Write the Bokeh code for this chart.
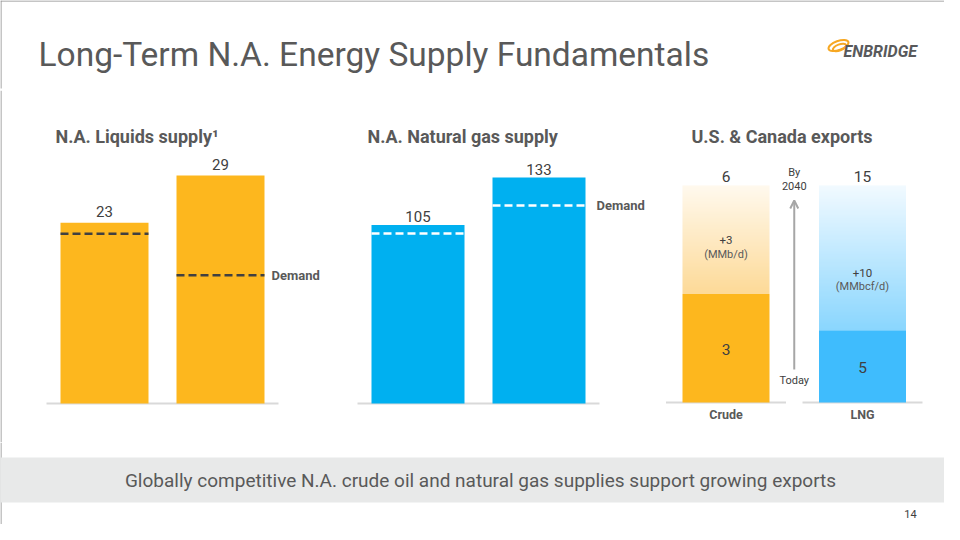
import numpy as np
from bokeh.plotting import figure
from bokeh.layouts import column, row
from bokeh.models import Range1d, Label, Arrow, OpenHead
from bokeh.core.properties import value
from bokeh.embed import file_html
from bokeh.resources import INLINE

# ---------------- data ----------------
slide_title = "Long-Term N.A. Energy Supply Fundamentals"
footer_text = "Globally competitive N.A. crude oil and natural gas supplies support growing exports"
page_number = "14"
logo_text = "ENBRIDGE"

liquids_title = "N.A. Liquids supply\u00b9"
liquids_periods = ["Today", "2040"]
liquids_supply = [23, 29]
liquids_demand = [21.6, 16.3]

gas_title = "N.A. Natural gas supply"
gas_periods = ["Today", "2040"]
gas_supply = [105, 133]
gas_demand = [100, 116.5]

exports_title = "U.S. & Canada exports"
export_categories = ["Crude", "LNG"]
export_today = [3, 5]
export_growth = [3, 10]
export_units = ["(MMb/d)", "(MMbcf/d)"]
arrow_top_labels = ["By", "2040"]
arrow_bottom_label = "Today"
demand_label = "Demand"

# ---------------- style ----------------
FONT = "Roboto"
ORANGE = "#FDB71E"
BLUE = "#00B0F0"
LNG_BLUE = "#3FBCFD"
DARK = "#404040"
GREY = "#595959"
AXIS = "#D9D9D9"
FRAME = "#8C8C8C"
CRUDE_GRAD = ((253, 218, 152), (255, 249, 238))
LNG_GRAD = ((138, 214, 254), (242, 250, 255))

W = 944
HEADER_H, BODY_H, FOOTER_H = 90, 352, 82


def make_fig(w, h, xr, yr):
    p = figure(width=w, height=h, x_range=xr, y_range=yr, output_backend="svg",
               toolbar_location=None, tools="", min_border=0,
               x_axis_location=None, y_axis_location=None)
    p.grid.visible = False
    p.outline_line_color = None
    p.background_fill_color = "white"
    p.border_fill_color = "white"
    return p


def txt(p, **kw):
    kw.setdefault("text_font", value(FONT))
    kw.setdefault("text_align", "center")
    kw.setdefault("text_baseline", "middle")
    p.text(**kw)


def gradient(c0, c1, n=128):
    img = np.empty((n, 1), dtype=np.uint32)
    v = img.view(dtype=np.uint8).reshape((n, 1, 4))
    t = np.linspace(0, 1, n)
    for k in range(3):
        v[:, 0, k] = np.round(c0[k] + (c1[k] - c0[k]) * t).astype(np.uint8)
    v[:, 0, 3] = 255
    return img


def bar_chart(w, centers_px, bar_px, base_px, max_px, values, demand, color,
              demand_color, title, title_x, label_gap, demand_gap, left_frame=False):
    step = centers_px[1] - centers_px[0]
    u = max(values) / max_px
    xr = Range1d(-centers_px[0] / step, (w - centers_px[0]) / step)
    yr = Range1d(-base_px * u, (BODY_H - base_px) * u)
    p = make_fig(w, BODY_H, xr, yr)
    if left_frame:
        fx = xr.start + 0.5 / step
        p.segment(x0=[fx], x1=[fx], y0=[yr.start], y1=[yr.end], line_color=FRAME, line_width=1)
    xs = list(range(len(values)))
    bw = bar_px / step
    ext = 14 / step
    p.segment(x0=[xs[0] - bw / 2 - ext], y0=[0], x1=[xs[-1] + bw / 2 + ext], y1=[0],
              line_color=AXIS, line_width=2)
    p.vbar(x=xs, top=values, bottom=0, width=bw, fill_color=color, line_color=None)
    p.segment(x0=[x - bw / 2 for x in xs], x1=[x + bw / 2 for x in xs],
              y0=demand, y1=demand, line_color=demand_color, line_width=2.5,
              line_dash="8 4")
    txt(p, x=xs, y=values, text=[str(v) for v in values],
        y_offset=-label_gap, text_font_size=value("15px"), text_color=DARK)
    txt(p, x=[xs[-1] + bw / 2], y=[demand[-1]], text=[demand_label], text_align="left",
        x_offset=demand_gap, text_font_size=value("13px"),
        text_font_style="bold", text_color=GREY)
    p.add_layout(Label(x=title_x, y=BODY_H - 46, x_units="screen", y_units="screen",
                       text=title, text_font=FONT, text_font_size="18px",
                       text_font_style="bold", text_color=GREY, text_baseline="middle"))
    return p


c1 = bar_chart(340, [104, 220], 88, 39, 228, liquids_supply, liquids_demand, ORANGE,
               DARK, liquids_title, 55, 11.5, 7, left_frame=True)
c2 = bar_chart(310, [77.5, 198.5], 93, 39, 226, gas_supply, gas_demand, BLUE,
               "white", gas_title, 27, 8.5, 11)

# ---- exports chart (each bar normalised to its own total) ----
w3 = W - 340 - 310
cx = [75.5, 212]
step3 = cx[1] - cx[0]
u3 = 1 / 217
base3 = 40
p3 = make_fig(w3, BODY_H, Range1d(-cx[0] / step3, (w3 - cx[0]) / step3),
              Range1d(-base3 * u3, (BODY_H - base3) * u3))
xs3 = list(range(len(export_categories)))
bw3 = 87 / step3
half_axis = 60 / step3
totals = [a + b for a, b in zip(export_today, export_growth)]
today_share = [a / t for a, t in zip(export_today, totals)]
growth_share = [b / t for b, t in zip(export_growth, totals)]

p3.segment(x0=[x - half_axis for x in xs3], x1=[x + half_axis for x in xs3],
           y0=[0] * len(xs3), y1=[0] * len(xs3), line_color=AXIS, line_width=2)
p3.vbar(x=xs3, bottom=0, top=today_share, width=bw3, fill_color=[ORANGE, LNG_BLUE],
        line_color=None)
for x, b, h, g in zip(xs3, today_share, growth_share, [CRUDE_GRAD, LNG_GRAD]):
    p3.image_rgba(image=[gradient(*g)], x=[x - bw3 / 2], y=[b], dw=[bw3], dh=[h])

top3 = [a + b for a, b in zip(today_share, growth_share)]
txt(p3, x=xs3, y=top3, text=[str(t) for t in totals],
    y_offset=-9.5, text_font_size=value("15.5px"), text_color=DARK)
txt(p3, x=xs3, y=[s / 2 for s in today_share], text=[str(v) for v in export_today],
    y_offset=1, text_font_size=value("15.5px"), text_color=DARK)
grow_mid = [a + b / 2 for a, b in zip(today_share, growth_share)]
txt(p3, x=xs3, y=grow_mid, text=["+%d" % g for g in export_growth],
    y_offset=[0, 15], text_font_size=value("11.5px"), text_color=DARK)
txt(p3, x=xs3, y=grow_mid, text=export_units,
    y_offset=[15, 29], text_font_size=value("11px"), text_color=GREY)
txt(p3, x=xs3, y=[0] * len(xs3), text=export_categories,
    y_offset=12, text_font_size=value("12.5px"), text_font_style="bold", text_color=GREY)

mid = (xs3[0] + xs3[-1]) / 2
arr_lo, arr_hi = 33 * u3, 202 * u3
p3.add_layout(Arrow(x_start=mid, y_start=arr_lo, x_end=mid, y_end=arr_hi,
                    line_color="#A6A6A6", line_width=2,
                    end=OpenHead(size=8, line_color="#A6A6A6", line_width=2)))
txt(p3, x=[mid, mid], y=[arr_hi, arr_hi], text=arrow_top_labels,
    y_offset=[-28, -15], text_font_size=value("11px"), text_color=DARK)
txt(p3, x=[mid], y=[arr_lo], text=[arrow_bottom_label],
    y_offset=11, text_font_size=value("11px"), text_color=DARK)
p3.add_layout(Label(x=41, y=BODY_H - 46, x_units="screen", y_units="screen",
                    text=exports_title, text_font=FONT, text_font_size="18px",
                    text_font_style="bold", text_color=GREY, text_baseline="middle"))

# ---------------- header ----------------
hdr = make_fig(W, HEADER_H, Range1d(0, W), Range1d(HEADER_H, 0))
hdr.segment(x0=[0, 0.5], x1=[W, 0.5], y0=[0.5, 0], y1=[0.5, 88], line_color=FRAME, line_width=1)
txt(hdr, x=[38], y=[54], text=[slide_title], text_align="left",
    text_font_size=value("33.5px"), text_color=GREY)
hdr.ellipse(x=[838, 839], y=[45, 47], width=[21, 14], height=[9, 6], angle=[0.35, 0.35],
            fill_color=None, line_color="#F7A823", line_width=2)
txt(hdr, x=[843], y=[51], text=[logo_text], text_align="left",
    text_font_size=value("16px"), text_font_style="bold italic", text_color="#58595B")

# ---------------- footer ----------------
ftr = make_fig(W, FOOTER_H, Range1d(0, W), Range1d(FOOTER_H, 0))
ftr.segment(x0=[0.5], x1=[0.5], y0=[0], y1=[FOOTER_H], line_color=FRAME, line_width=1)
ftr.quad(left=[0], right=[W], top=[15], bottom=[60], fill_color="#E8E9E9", line_color=None)
txt(ftr, x=[480], y=[38], text=[footer_text],
    text_font_size=value("19px"), text_color=GREY)
txt(ftr, x=[910], y=[71], text=[page_number],
    text_font_size=value("11px"), text_color=DARK)

layout = column(hdr, row(c1, c2, p3), ftr)

open("out.html", "w").write(file_html(layout, INLINE))
